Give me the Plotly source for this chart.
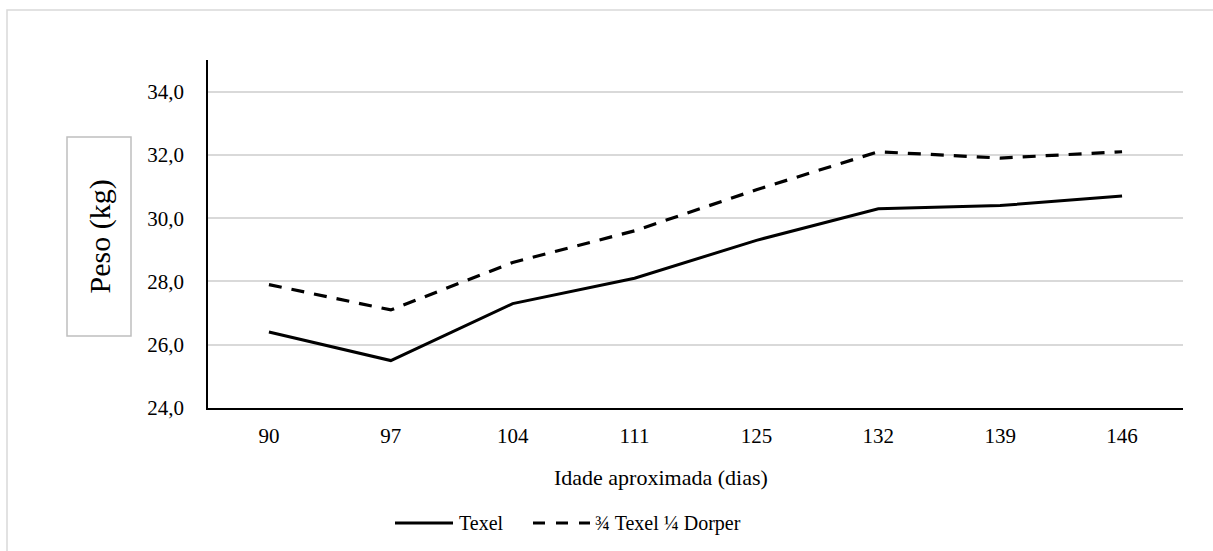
import plotly.graph_objects as go

# Idade aproximada (dias) e peso médio (kg) por grupo genético
idade = ["90", "97", "104", "111", "125", "132", "139", "146"]
texel = [26.4, 25.5, 27.3, 28.1, 29.3, 30.3, 30.4, 30.7]
texel_dorper = [27.9, 27.1, 28.6, 29.6, 30.9, 32.1, 31.9, 32.1]
nomes = ["Texel", "¾ Texel ¼ Dorper"]
y_ticks = [24, 26, 28, 30, 32, 34]
y_ticktext = ["24,0", "26,0", "28,0", "30,0", "32,0", "34,0"]

FONT = "Liberation Serif"
W, H = 1213, 551
L, R, T, B = 208, 30, 60, 143
PW, PH = W - L - R, H - T - B


def px_x(px):
    return (px - L) / PW


def px_y(py):
    return (H - B - py) / PH


fig = go.Figure()
fig.add_trace(go.Scatter(x=idade, y=texel, mode="lines", name=nomes[0],
                         line=dict(color="black", width=3), showlegend=False))
fig.add_trace(go.Scatter(x=idade, y=texel_dorper, mode="lines", name=nomes[1],
                         line=dict(color="black", width=3.2, dash="13px,10px"),
                         showlegend=False))

shapes = [
    # outer chart frame
    dict(type="rect", xref="paper", yref="paper",
         x0=px_x(7), x1=px_x(1230), y0=px_y(10), y1=px_y(570),
         line=dict(color="#d9d9d9", width=1.5), layer="below"),
    # box around the y-axis title
    dict(type="rect", xref="paper", yref="paper",
         x0=px_x(67), x1=px_x(131), y0=px_y(336), y1=px_y(137),
         line=dict(color="#bfbfbf", width=1.5)),
    # legend samples
    dict(type="line", xref="paper", yref="paper",
         x0=px_x(395), x1=px_x(453), y0=px_y(523), y1=px_y(523),
         line=dict(color="black", width=3)),
    dict(type="line", xref="paper", yref="paper",
         x0=px_x(533), x1=px_x(590), y0=px_y(523), y1=px_y(523),
         line=dict(color="black", width=3.2, dash="12px,11px")),
]

annotations = [
    dict(text="Peso (kg)", xref="paper", yref="paper", x=px_x(99), y=px_y(236.5),
         textangle=-90, showarrow=False, font=dict(family=FONT, size=30, color="black"),
         xanchor="center", yanchor="middle"),
    dict(text="Idade aproximada (dias)", xref="paper", yref="paper",
         x=px_x(661), y=px_y(477), showarrow=False,
         font=dict(family=FONT, size=22, color="black"),
         xanchor="center", yanchor="middle"),
    dict(text=nomes[0], xref="paper", yref="paper", x=px_x(457), y=px_y(523),
         showarrow=False, font=dict(family=FONT, size=20, color="black"),
         xanchor="left", yanchor="middle"),
    dict(text=nomes[1], xref="paper", yref="paper", x=px_x(593), y=px_y(523),
         showarrow=False, font=dict(family=FONT, size=20, color="black"),
         xanchor="left", yanchor="middle"),
]

fig.update_layout(
    width=W, height=H,
    margin=dict(l=L, r=R, t=T, b=B),
    paper_bgcolor="white", plot_bgcolor="white",
    font=dict(family=FONT, color="black"),
    shapes=shapes, annotations=annotations,
    showlegend=False,
)
fig.update_xaxes(
    type="category", range=[-0.5, len(idade) - 0.5],
    showline=True, linecolor="black", linewidth=1.5,
    showgrid=False, ticks="", tickfont=dict(family=FONT, size=21, color="black"),
    ticklabelstandoff=8,
)
fig.update_yaxes(
    range=[24, 35], tickvals=y_ticks, ticktext=y_ticktext,
    showline=True, linecolor="black", linewidth=1.5,
    showgrid=True, gridcolor="#d9d9d9", gridwidth=1.5,
    zeroline=False, ticks="", tickfont=dict(family=FONT, size=21, color="black"),
    ticklabelstandoff=18,
)

fig.write_html("out.html")
